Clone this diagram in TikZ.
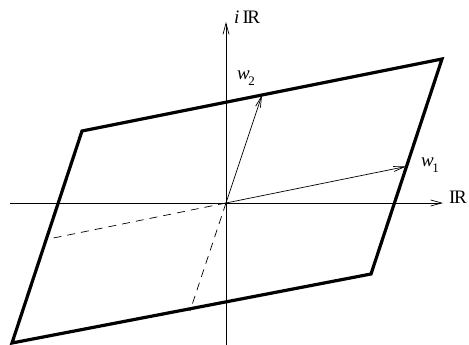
\documentclass[tikz,border=0pt]{standalone}
\usepackage{fontspec}
\setmainfont{Liberation Serif}
\usetikzlibrary{arrows.meta}
\newcommand{\reals}{I\kern-1.5pt R}
\newcommand{\lblsub}[1]{\textit{w}\kern-1.5pt\raisebox{-6pt}{\fontsize{13}{13}\selectfont #1}}
\tikzset{
  axis/.style={line width=0.7pt, -{Straight Barb[length=11pt,width=6pt]}},
  vec/.style={line width=0.7pt, -{Straight Barb[length=11pt,width=5pt]}},
  cell/.style={line width=3.2pt, line join=miter},
  half/.style={line width=0.7pt, dash pattern=on 8pt off 6pt},
  lbl/.style={font=\fontsize{19}{21}\selectfont, inner sep=0pt}
}

\begin{document}
\begin{tikzpicture}[x=1pt,y=1pt]
\useasboundingbox (-226,-142) rectangle (243,203);
% lattice points
\coordinate (o) at (0,0);
\coordinate (w1) at (180,36.5);
\coordinate (w2) at (36,108);
\coordinate (m1) at (-180,-36.5);
\coordinate (m2) at (-36,-108);
\coordinate (tr) at (216,144);
\coordinate (tl) at (-144,72);
\coordinate (bl) at (-214,-140);
\coordinate (br) at (145,-71);
% axes
\coordinate (xl) at (-216,0);
\coordinate (xr) at (217,0);
\coordinate (yb) at (0,-142);
\coordinate (yt) at (0,181);
\draw[axis] (xl) -- (xr);
\draw[axis] (yb) -- (yt);
\node[lbl, anchor=base west] (re) at (223,-1) {\reals};
\node[lbl, anchor=base west] (im) at (8,179) {\textit{i}\,\reals};

% period cell
\draw[cell] (tl) -- (tr) -- (br) -- (bl) -- cycle;
\draw[half] (o) -- (m1);
\draw[half] (o) -- (m2);

% periods
\draw[vec] (o) -- (w1);
\draw[vec] (o) -- (w2);
\node[lbl] (lw1) at (204,38) {\lblsub{1}};
\node[lbl] (lw2) at (20,125) {\lblsub{2}};
\end{tikzpicture}
\end{document}
